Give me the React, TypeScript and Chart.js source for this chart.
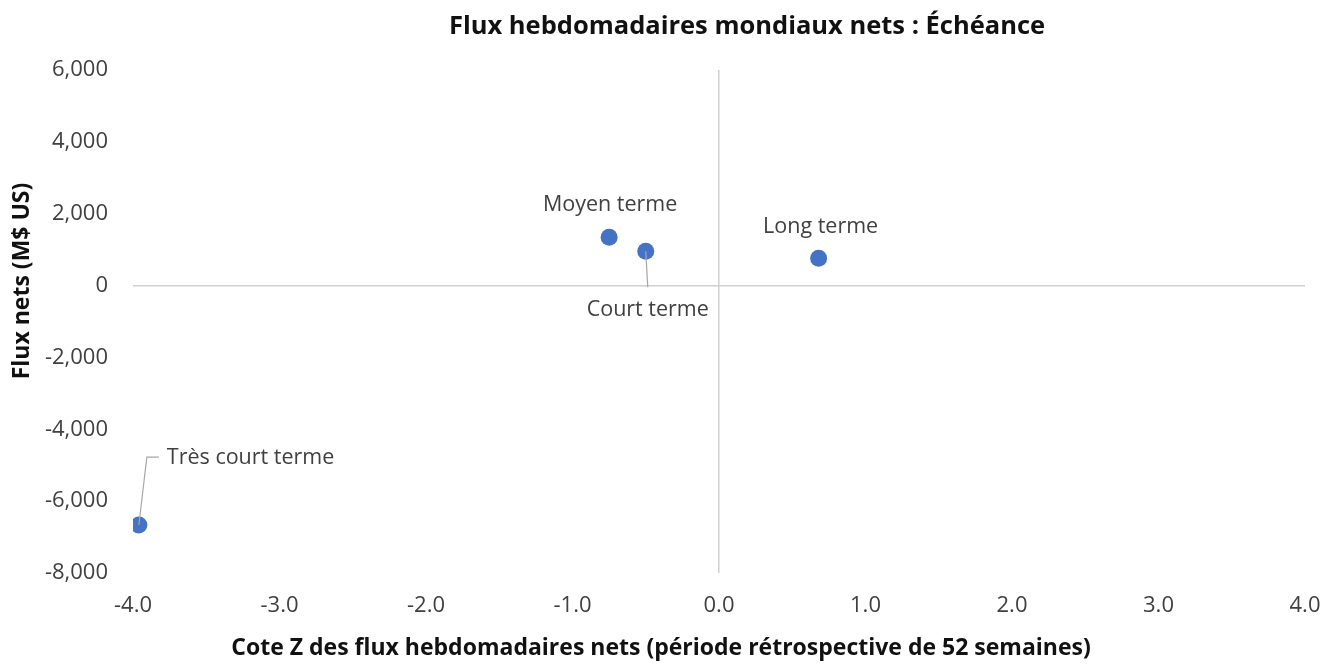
import { useEffect, useRef } from 'react';
import { Chart, registerables } from 'chart.js';

Chart.register(...registerables);

const TITLE = 'Flux hebdomadaires mondiaux nets : Échéance';
const X_TITLE = 'Cote Z des flux hebdomadaires nets (période rétrospective de 52 semaines)';
const Y_TITLE = 'Flux nets (M$ US)';

const LABELS = ['Très court terme', 'Moyen terme', 'Court terme', 'Long terme'];
const Z_SCORES = [-3.96, -0.75, -0.5, 0.68];
const NET_FLOWS = [-6665, 1345, 955, 760];

const X_MIN = -4;
const X_MAX = 4;
const X_STEP = 1;
const Y_MIN = -8000;
const Y_MAX = 6000;
const Y_STEP = 2000;

const FONT = "'Open Sans', 'Noto Sans', sans-serif";
const POINT_COLOR = '#4472C4';
const AXIS_LINE = '#d0d0d0';
const TICK_COLOR = '#404040';
const LABEL_COLOR = '#404040';
const TITLE_COLOR = '#111111';

// label placement relative to each point (pixels), and optional leader line
const LABEL_PLACEMENT: Record<string, { dx: number; dy: number; align: CanvasTextAlign; leader?: number[][] }> = {
  'Très court terme': { dx: 28, dy: -67, align: 'left', leader: [[0, 0], [8, -68], [20, -68]] },
  'Moyen terme': { dx: 1, dy: -32, align: 'center' },
  'Court terme': { dx: 2, dy: 59, align: 'center', leader: [[0, 0], [2, 36]] },
  'Long terme': { dx: 2, dy: -31, align: 'center' },
};

const labelPlugin = {
  id: 'pointLabels',
  afterDatasetsDraw(chart: any) {
    const ctx = chart.ctx as CanvasRenderingContext2D;
    const meta = chart.getDatasetMeta(0);
    ctx.save();
    meta.data.forEach((el: any, i: number) => {
      const name = LABELS[i];
      const p = LABEL_PLACEMENT[name];
      if (!p) return;
      if (p.leader) {
        ctx.beginPath();
        ctx.strokeStyle = '#a6a6a6';
        ctx.lineWidth = 1.2;
        p.leader.forEach(([lx, ly], k) => {
          if (k === 0) ctx.moveTo(el.x + lx, el.y + ly);
          else ctx.lineTo(el.x + lx, el.y + ly);
        });
        ctx.stroke();
      }
      ctx.font = `21.5px ${FONT}`;
      ctx.fillStyle = LABEL_COLOR;
      ctx.textAlign = p.align;
      ctx.textBaseline = 'middle';
      ctx.fillText(name, el.x + p.dx, el.y + p.dy);
    });
    ctx.restore();
  },
  afterDraw(chart: any) {
    const ctx = chart.ctx as CanvasRenderingContext2D;
    ctx.save();
    ctx.fillStyle = TITLE_COLOR;
    ctx.textBaseline = 'middle';
    ctx.textAlign = 'center';
    ctx.font = `bold 25.5px ${FONT}`;
    ctx.fillText(TITLE, 747, 27);
    ctx.font = `bold 23px ${FONT}`;
    ctx.fillText(X_TITLE, 661, 648);
    ctx.translate(22, 281);
    ctx.rotate(-Math.PI / 2);
    ctx.fillText(Y_TITLE, 0, 0);
    ctx.restore();
  },
};

export default function App() {
  const ref = useRef<HTMLCanvasElement>(null);
  useEffect(() => {
    const chart = new Chart(ref.current!, {
      type: 'scatter',
      data: {
        datasets: [
          {
            data: Z_SCORES.map((x, i) => ({ x, y: NET_FLOWS[i] })),
            backgroundColor: POINT_COLOR,
            borderColor: POINT_COLOR,
            pointRadius: 8.5,
            pointHoverRadius: 8.5,
            borderWidth: 0,
          },
        ],
      },
      options: {
        animation: false,
        responsive: false,
        devicePixelRatio: 1,
        layout: { padding: { top: 70, right: 21, bottom: 0, left: 0 } },
        plugins: { legend: { display: false }, tooltip: { enabled: false }, title: { display: false } },
        scales: {
          x: {
            type: 'linear',
            min: X_MIN,
            max: X_MAX,
            ticks: {
              stepSize: X_STEP,
              callback: (v: any) => Number(v).toFixed(1),
              font: { family: FONT, size: 22 },
              color: TICK_COLOR,
              padding: 20,
              maxRotation: 0,
            },
            grid: {
              color: (c: any) => (c.tick && c.tick.value === 0 ? AXIS_LINE : 'rgba(0,0,0,0)'),
              lineWidth: 1.5,
              drawTicks: false,
            },
            border: { display: false },
            afterFit: (s: any) => {
              s.height = 93;
              s.paddingLeft = 0;
              s.paddingRight = 0;
            },
          },
          y: {
            type: 'linear',
            min: Y_MIN,
            max: Y_MAX,
            ticks: {
              stepSize: Y_STEP,
              callback: (v: any) => Number(v).toLocaleString('en-US'),
              font: { family: FONT, size: 22 },
              color: TICK_COLOR,
              padding: 25,
            },
            grid: {
              color: (c: any) => (c.tick && c.tick.value === 0 ? AXIS_LINE : 'rgba(0,0,0,0)'),
              lineWidth: 1.5,
              drawTicks: false,
            },
            border: { display: false },
            afterFit: (s: any) => {
              s.width = 133;
              s.paddingTop = 0;
              s.paddingBottom = 0;
            },
          },
        },
      },
      plugins: [labelPlugin],
    });
    return () => chart.destroy();
  }, []);
  return (
    <div style={{ position: 'absolute', left: 0, top: 0, width: 1326, height: 666, background: '#fff' }}>
      <canvas ref={ref} width={1326} height={666} />
    </div>
  );
}
